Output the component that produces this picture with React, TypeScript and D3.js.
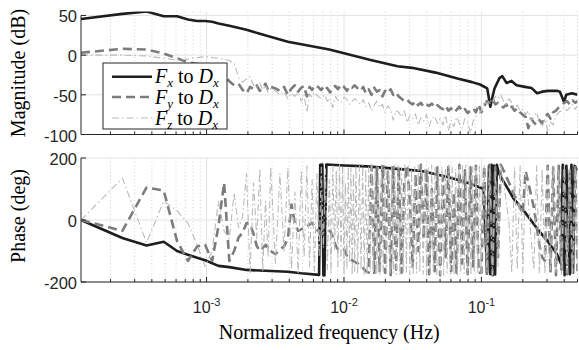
import React from 'react';
import * as d3 from 'd3';

// frequency bins of an 8192-point FFT, normalized freq = bin / fftSize
const fftSize = 8192;

const fxMagBins = [1, 2, 3, 4, 5, 6, 7, 8, 9, 10, 12, 16, 20, 32, 64, 82, 128, 201, 256, 380, 548, 700, 800, 903, 951, 984, 1020, 1108, 1162, 1247, 1356, 1476, 1700, 1900, 2080, 2270, 2500, 2900, 3050, 3270, 3390, 3730, 4096];
const fxMag = [45.5, 52, 55, 49, 49, 45, 43, 43, 42, 40, 37, 32, 27, 17, 7, 2.5, -6, -14, -16, -22, -29.5, -34, -37, -42, -65, -53, -42, -29, -26.5, -35, -32.5, -38, -40, -41.5, -48, -46, -45, -45, -46, -59, -50, -48, -50];

const noisyBins = [
  1, 2, 3, 4, 5, 6, 7, 8, 9, 10, 11, 12, 13, 14, 15, 16, 17, 18, 19, 20, 21, 22, 23, 24,
  26, 28, 30, 32, 34, 36, 38, 40, 42, 44, 46, 48, 50,
  53, 56, 59, 62, 65, 68, 71, 74, 78, 82, 86, 90, 94, 98,
  103, 108, 113, 118, 124, 130, 136, 142, 149, 156, 163, 171, 179, 187, 196,
  205, 215, 225, 236, 247, 259, 271, 284, 297, 311, 326, 341, 357, 374, 392,
  410, 430, 450, 471, 493, 516, 540, 566, 593, 621, 650, 681, 713, 747, 782,
  819, 858, 898, 941, 985, 1032, 1081, 1132, 1186, 1242, 1301, 1362, 1427, 1494, 1565,
  1639, 1717, 1798, 1883, 1972, 2066, 2163, 2266, 2373, 2485, 2603, 2726, 2855, 2990, 3132,
  3280, 3435, 3598, 3768, 3946, 4096,
];

const fyMag = [
  3, 8, 7, 2, -4, -9, -11, -12, -14, -18, -25, -33, -38, -36, -44, -48, -40, -43, -38, -45, -42, -36, -44, -40,
  -42, -45, -40, -50, -42, -38, -46, -41, -39, -52, -40, -44, -38,
  -40, -44, -38, -42, -47, -40, -39, -43, -37, -40, -45, -39, -41, -38,
  -42, -45, -40, -48, -43, -50, -41, -46, -44, -52, -45, -48, -43, -50, -47,
  -52, -55, -58, -56, -60, -62, -58, -63, -60, -65, -62, -64, -61, -66, -63,
  -66, -68, -64, -70, -67, -72, -69, -65, -71, -68, -73, -70, -67, -72, -62,
  -72, -65, -58, -60, -55, -62, -60, -64, -66, -62, -68, -65, -70, -67, -72,
  -75, -78, -92, -80, -85, -88, -82, -86, -78, -74, -80, -72, -70, -66, -64,
  -60, -58, -62, -57, -60, -58,
];

const fzMag = [
  0, 0, -1, -4, -6, -5, -3, -2, -3, -4, -5, -7, -10, -28, -34, -30, -27, -38, -40, -35, -44, -38, -47, -42,
  -45, -50, -46, -55, -48, -52, -47, -58, -50, -72, -49, -53, -47,
  -52, -55, -50, -58, -54, -66, -52, -57, -60, -53, -56, -62, -58, -55,
  -58, -62, -56, -65, -60, -70, -63, -58, -66, -62, -72, -64, -68, -82, -70,
  -72, -78, -70, -85, -76, -80, -74, -88, -79, -83, -75, -90, -80, -77, -86,
  -80, -88, -76, -95, -82, -90, -78, -86, -92, -80, -85, -98, -83, -77, -74,
  -70, -58, -62, -56, -60, -52, -55, -50, -58, -62, -55, -60, -66, -63, -70,
  -68, -75, -70, -82, -78, -72, -85, -90, -80, -95, -84, -88, -76, -72, -70,
  -65, -70, -66, -62, -68, -64,
];

const fxPhaseBins = [1, 2, 3, 4, 5, 6, 7, 8, 10, 12, 16, 20, 32, 40, 54, 55, 57, 58, 59, 61, 82, 120, 200, 300, 450, 600, 700, 765, 850, 900, 930, 950, 970, 990, 1010, 1030, 1060, 1100, 1200, 1300, 1400, 1600, 1800, 2100, 2500, 2900, 3100, 3200, 3300, 3400, 3600, 3700, 3800, 3900, 4096];
const fxPhase = [0, -58, -82, -70, -100, -112, -122, -130, -148, -152, -161, -163, -167, -172, -177, 178, 179, -178, -179, 179, 176, 173, 165, 158, 140, 125, 115, 108, 100, -170, 175, -175, 178, -178, 176, -176, 178, 150, 120, 95, 70, 40, 10, -30, -70, -110, -140, 178, -178, 175, -175, 178, -170, 175, 160];

const fyPhase = [
  0, -35, 105, 95, -68, -132, -85, -80, -132, -20, 120, -132, -100, -57, -40, -10, -13, -45, -84, -100, -90, -80, -94, -100,
  -110, -95, -85, -60, 50, -13, -35, -30, -25, -20, -15, -9, -20,
  -35, -45, -40, -36, -35, -55, -80, -95, -100, -94, -115, -126, -130, -135,
  -140, -148, -155, -165, -170, 175, -175, 170, -165, 178, -170, 160, -178, 175, -160,
  170, -170, 120, 175, 60, -150, 150, -100, 178, -60, 165, -175, 100, -165, 170,
  -178, 140, -120, 175, -165, 90, -170, 178, -140, 160, -175, 170, -150, 175, -170,
  -170, 175, -178, 178, -175, 170, -120, 178, 160, 140, 120, 100, 80, 60, 40,
  20, 158, 120, 80, 40, -20, -80, -120, -132, 175, -170, 170, -178, 175, -160,
  170, -175, 165, -170, 175, -165,
];

// Fz phase wraps much more often, so it gets a denser bin list
const fzPhaseBins = [
  1, 2, 3, 4, 5, 6, 7, 8, 9, 10, 11, 12, 13, 14, 15, 16, 17, 18, 19, 20, 21, 22, 23, 24,
  26, 28, 30, 32, 34, 36, 38, 40, 42, 44, 46, 48, 50,
  52, 54, 56, 58, 60, 62, 64, 66, 68, 70, 72, 74, 76, 78, 80, 82, 84, 86, 88, 90, 92, 94, 96, 98, 100,
  103, 106, 109, 112, 115, 118, 121, 124, 127, 130, 134, 138, 142, 146, 150, 154, 158, 162, 167, 172, 177, 182, 187, 192, 197,
  203, 209, 215, 221, 227, 233, 240, 247, 254, 261, 268, 276, 284, 292, 300, 309, 318, 327, 336, 346, 356, 366, 377, 388, 399,
  411, 423, 435, 448, 461, 474, 488, 502, 517, 532, 547, 563, 579, 596, 613, 631, 649, 668, 687, 707, 727, 748, 770, 792, 815,
  858, 898, 941, 985, 1032, 1081, 1132, 1186, 1242, 1301, 1362, 1427, 1494, 1565,
  1639, 1717, 1798, 1883, 1972, 2066, 2163, 2266, 2373, 2485, 2603, 2726, 2855, 2990, 3132,
  3280, 3435, 3598, 3768, 3946, 4096,
];
const fzPhase = [
  0, 135, -73, 61, 30, -10, -80, -150, -100, 61, -35, -60, 88, -25, 10, 150, -170, 120, -60, 165, -165, 60, -120, 170,
  -140, 150, -100, 170, -160, 90, -170, 160, -120, 175, -150, 130, -165,
  150, -120, 170, -90, 165, -160, 130, -170, 175, -100, 160, -150, 178, -130, 170, -175, 120, -160, 172, -140, 168, -178, 150, -165, 176,
  -170, 175, -160, 178, -175, 165, -178, 172, -168, 178, -172, 160, -176, 170, -178, 174, -165, 178, -172, 168, -176, 175, -170, 178, -174,
  176, -178, 170, -172, 178, -168, 175, -176, 165, -178, 172, -170, 178, -165, 176, -174, 170, -178, 168, -172, 177, -170, 174, -176, 170,
  -176, 172, -178, 168, -170, 178, -174, 170, -176, 165, -178, 174, -168, 176, -172, 178, -175, 170, -178, 172, -165, 176, -170, 174, -178,
  175, -165, 170, -178, 160, -150, 175, 120, 60, -10, -170, 170, -160, 175,
  -170, 150, 60, -60, -160, 175, -170, 165, -175, 170, -160, 178, -170, 160, -175,
  175, -170, 165, -175, 170, -160,
];

const magTicks = [50, 0, -50, -100];
const phaseTicks = [200, 0, -200];

const W = 579;
const H = 350;
const left = 81;
const right = 577.5;
const magTop = 11.5;
const magBottom = 134.5;
const phTop = 158;
const phBottom = 282;

const axisColor = '#262626';
const sans = '"Liberation Sans", Arial, sans-serif';
const serif = '"Liberation Serif", "Times New Roman", serif';

const x = d3.scaleLog().domain([1 / fftSize, 0.5]).range([left, right]);
const yMag = d3.scaleLinear().domain([-100, 55]).range([magBottom, magTop]);
const yPh = d3.scaleLinear().domain([-200, 200]).range([phBottom, phTop]);

const allTicks = x.ticks();
const isMajor = (v: number) => Math.abs(Math.log10(v) - Math.round(Math.log10(v))) < 1e-6;
const majorX = allTicks.filter(isMajor);
const minorX = allTicks.filter((v) => !isMajor(v));

const makePath = (bins: number[], vals: number[], y: d3.ScaleLinear<number, number>) =>
  d3
    .line<number>()
    .x((_, i) => x(bins[i] / fftSize))
    .y((d) => y(d))(vals) ?? '';

const styles = {
  fx: { stroke: '#1e1e1e', strokeWidth: 2.6, dash: undefined as string | undefined },
  fy: { stroke: '#7c7c7c', strokeWidth: 2.6, dash: '9,5' },
  fz: { stroke: '#bababa', strokeWidth: 1.1, dash: '7,3,1.5,3' },
};

type PanelProps = {
  top: number;
  bottom: number;
  y: d3.ScaleLinear<number, number>;
  ticks: number[];
  clipId: string;
  children: React.ReactNode;
};

const Panel = ({ top, bottom, y, ticks, clipId, children }: PanelProps) => (
  <g>
    <clipPath id={clipId}>
      <rect x={left} y={top} width={right - left} height={bottom - top} />
    </clipPath>
    {/* grid */}
    {minorX.map((v) => (
      <line key={'m' + v} x1={x(v)} x2={x(v)} y1={top} y2={bottom} stroke="#c4c4c4" strokeWidth={0.8} strokeDasharray="1,2.5" />
    ))}
    {majorX.map((v) => (
      <line key={'M' + v} x1={x(v)} x2={x(v)} y1={top} y2={bottom} stroke="#e3e3e3" strokeWidth={1} />
    ))}
    {ticks.map((t) => (
      <line key={'g' + t} x1={left} x2={right} y1={y(t)} y2={y(t)} stroke="#e3e3e3" strokeWidth={1} />
    ))}
    <g clipPath={`url(#${clipId})`}>{children}</g>
    {/* axes */}
    <line x1={left} x2={right} y1={bottom} y2={bottom} stroke={axisColor} strokeWidth={1} />
    <line x1={left} x2={left} y1={y(ticks[0])} y2={bottom} stroke={axisColor} strokeWidth={1} />
    {allTicks.map((v) => (
      <line key={'t' + v} x1={x(v)} x2={x(v)} y1={bottom} y2={bottom - (isMajor(v) ? 5 : 3)} stroke={axisColor} strokeWidth={1} />
    ))}
    {ticks.map((t) => (
      <g key={'yt' + t}>
        <line x1={left} x2={left + 5} y1={y(t)} y2={y(t)} stroke={axisColor} strokeWidth={1} />
        <text x={left - 4} y={y(t) + 1} textAnchor="end" dominantBaseline="central" fontFamily={sans} fontSize={16.5} fill={axisColor}>
          {t}
        </text>
      </g>
    ))}
  </g>
);

const Curve = ({ d, s }: { d: string; s: { stroke: string; strokeWidth: number; dash?: string } }) => (
  <path d={d} fill="none" stroke={s.stroke} strokeWidth={s.strokeWidth} strokeDasharray={s.dash} strokeLinejoin="round" />
);

const LegendLabel = ({ x0, y0, sub }: { x0: number; y0: number; sub: string }) => (
  <text x={x0} y={y0} fontFamily={serif} fontSize={20} fill="#000">
    <tspan fontStyle="italic">F</tspan>
    <tspan fontStyle="italic" fontSize={13} dy={4}>{sub}</tspan>
    <tspan dy={-4}> to </tspan>
    <tspan fontStyle="italic">D</tspan>
    <tspan fontStyle="italic" fontSize={13} dy={4}>x</tspan>
  </text>
);

export default function App() {
  const legendRows = [
    { sub: 'x', s: styles.fx, y: 76.7 },
    { sub: 'y', s: styles.fy, y: 97 },
    { sub: 'z', s: styles.fz, y: 118 },
  ];
  return (
    <svg width={W} height={H} style={{ position: 'absolute', left: 0, top: 0, background: '#fff' }}>
      <Panel top={magTop} bottom={magBottom} y={yMag} ticks={magTicks} clipId="magClip">
        <Curve d={makePath(fxMagBins, fxMag, yMag)} s={styles.fx} />
        <Curve d={makePath(noisyBins, fyMag, yMag)} s={styles.fy} />
        <Curve d={makePath(noisyBins, fzMag, yMag)} s={styles.fz} />
      </Panel>
      <Panel top={phTop} bottom={phBottom} y={yPh} ticks={phaseTicks} clipId="phClip">
        <Curve d={makePath(fxPhaseBins, fxPhase, yPh)} s={styles.fx} />
        <Curve d={makePath(noisyBins, fyPhase, yPh)} s={styles.fy} />
        <Curve d={makePath(fzPhaseBins, fzPhase, yPh)} s={styles.fz} />
      </Panel>

      {/* legend */}
      <rect x={103} y={63} width={124} height={66} fill="#fff" stroke={axisColor} strokeWidth={1} />
      {legendRows.map((r) => (
        <g key={r.sub}>
          <line x1={112} x2={152} y1={r.y} y2={r.y} stroke={r.s.stroke} strokeWidth={r.s.strokeWidth} strokeDasharray={r.s.dash} />
          <LegendLabel x0={155} y0={r.y + 6.5} sub={r.sub} />
        </g>
      ))}

      {/* x tick labels */}
      {majorX.map((v) => (
        <text key={'xl' + v} x={x(v)} y={313} textAnchor="middle" fontFamily={sans} fontSize={16} fill={axisColor}>
          10
          <tspan fontSize={11} dy={-7}>{Math.round(Math.log10(v))}</tspan>
        </text>
      ))}

      {/* axis labels */}
      <text x={(left + right) / 2} y={339} textAnchor="middle" fontFamily={serif} fontSize={20} fill="#000">
        Normalized frequency (Hz)
      </text>
      <text transform={`translate(25, ${(magTop + magBottom) / 2}) rotate(-90)`} textAnchor="middle" fontFamily={serif} fontSize={20} fill="#000">
        Magnitude (dB)
      </text>
      <text transform={`translate(25, 216) rotate(-90)`} textAnchor="middle" fontFamily={serif} fontSize={20} fill="#000">
        Phase (deg)
      </text>
    </svg>
  );
}
